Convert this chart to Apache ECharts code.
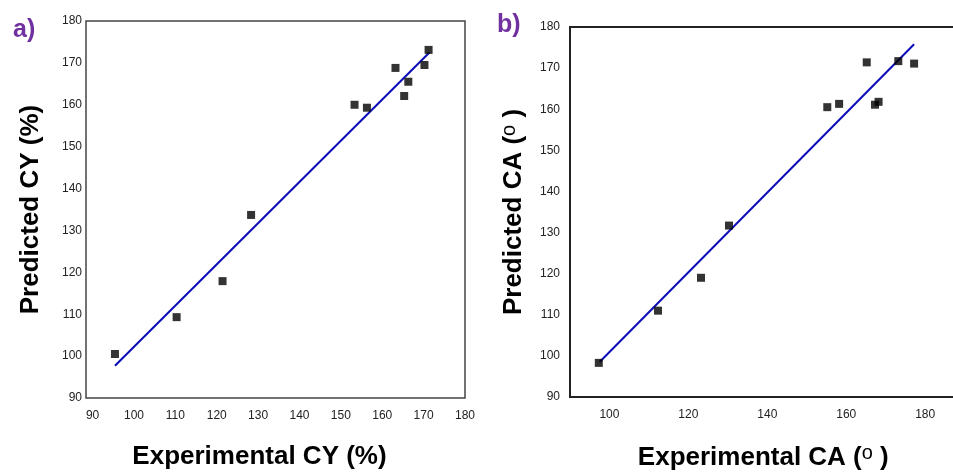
<!DOCTYPE html>
<html>
<head>
<meta charset="utf-8">
<title>Predicted vs experimental CY and CA</title>
<script src="https://cdn.jsdelivr.net/npm/echarts@6/dist/echarts.min.js"></script>
<style>
  html, body { margin: 0; padding: 0; background: #fff; }
  #chart { width: 953px; height: 472px; }
</style>
</head>
<body>
<div id="chart"></div>
<script>
  // a) CY (%) : experimental vs predicted
  var cyExperimental = [95.4, 110.3, 121.4, 128.3, 153.3, 156.3, 163.2, 165.3, 166.3, 170.2, 171.2];
  var cyPredicted = [100.5, 109.3, 117.9, 133.7, 160.0, 159.3, 168.8, 162.1, 165.5, 169.5, 173.1];
  var cyFitX = [95.4, 171.4];
  var cyFitY = [97.7, 172.5];
  var cyTicks = [90, 100, 110, 120, 130, 140, 150, 160, 170, 180];

  // b) CA (o) : experimental vs predicted
  var caExperimental = [97.3, 112.3, 123.2, 130.3, 155.2, 158.2, 165.2, 167.3, 168.2, 173.2, 177.2];
  var caPredicted = [98.3, 111.0, 119.0, 131.7, 160.5, 161.3, 171.4, 161.1, 161.8, 171.7, 171.1];
  var caFitX = [97.5, 177.2];
  var caFitY = [98.5, 175.8];
  var caXTicks = [100, 120, 140, 160, 180];
  var caYTicks = [90, 100, 110, 120, 130, 140, 150, 160, 170, 180];

  var FONT = 'Liberation Sans, Arial, sans-serif';

  function pairs(xs, ys) {
    var out = [];
    for (var i = 0; i < xs.length; i++) {
      out.push([xs[i], ys[i]]);
    }
    return out;
  }

  //only the listed ticks get a label
  function tickFormatter(ticks) {
    return function (value) {
      for (var i = 0; i < ticks.length; i++) {
        if (Math.abs(ticks[i] - value) < 1e-6) {
          return String(ticks[i]);
        }
      }
      return '';
    };
  }

  function tickLabel(ticks, margin) {
    return {
      color: '#222',
      fontFamily: FONT,
      fontSize: 12,
      margin: margin,
      formatter: tickFormatter(ticks)
    };
  }

  function nameStyle(padding) {
    return {
      color: '#000',
      fontFamily: FONT,
      fontSize: 26,
      fontWeight: 'bold',
      padding: padding || 0,
      rich: {
        sup: {
          color: '#000',
          fontFamily: FONT,
          fontSize: 20,
          fontWeight: 'normal',
          verticalAlign: 'top',
          padding: [0, 0, 10, 0]
        }
      }
    };
  }

  var chart = echarts.init(document.getElementById('chart'), null, { renderer: 'canvas' });

  var option = {
    backgroundColor: '#fff',
    animation: false,
    title: [
      {
        text: 'a)',
        left: 8,
        top: 13,
        textStyle: { color: '#7030a0', fontFamily: FONT, fontSize: 25, fontWeight: 'bold' }
      },
      {
        text: 'b)',
        left: 492,
        top: 8,
        textStyle: { color: '#7030a0', fontFamily: FONT, fontSize: 25, fontWeight: 'bold' }
      }
    ],
    grid: [
      {
        left: 86, top: 21, width: 379, height: 377,
        outerBoundsMode: 'none',
        containLabel: false,
        show: true, borderColor: '#444', borderWidth: 1.5
      },
      {
        // the box runs past the right edge of the picture
        left: 570, top: 27, width: 394.6, height: 370,
        outerBoundsMode: 'none',
        containLabel: false,
        show: true, borderColor: '#222', borderWidth: 2
      }
    ],
    xAxis: [
      {
        gridIndex: 0,
        type: 'value',
        min: 88.4,
        max: 180,
        minInterval: 10,
        maxInterval: 10,
        name: 'Experimental CY (%)',
        nameLocation: 'middle',
        nameGap: 46,
        nameTextStyle: nameStyle([0, 32, 0, 0]),
        axisLine: { show: false },
        axisTick: { show: false },
        splitLine: { show: false },
        axisLabel: tickLabel(cyTicks, 12)
      },
      {
        gridIndex: 1,
        type: 'value',
        min: 90,
        max: 190,
        minInterval: 20,
        maxInterval: 20,
        name: 'Experimental CA ({sup|o} )',
        nameLocation: 'middle',
        nameGap: 46,
        nameTextStyle: nameStyle([0, 8, 0, 0]),
        axisLine: { show: false },
        axisTick: { show: false },
        splitLine: { show: false },
        axisLabel: tickLabel(caXTicks, 12)
      }
    ],
    yAxis: [
      {
        gridIndex: 0,
        type: 'value',
        min: 90,
        max: 180,
        interval: 10,
        name: 'Predicted CY (%)',
        nameLocation: 'middle',
        nameGap: 42,
        nameTextStyle: nameStyle(),
        axisLine: { show: false },
        axisTick: { show: false },
        splitLine: { show: false },
        axisLabel: tickLabel(cyTicks, 4)
      },
      {
        gridIndex: 1,
        type: 'value',
        min: 90,
        max: 180,
        interval: 10,
        name: 'Predicted CA ({sup|o} )',
        nameLocation: 'middle',
        nameGap: 41,
        nameTextStyle: nameStyle(),
        axisLine: { show: false },
        axisTick: { show: false },
        splitLine: { show: false },
        axisLabel: tickLabel(caYTicks, 10)
      }
    ],
    series: [
      {
        name: 'CY fit',
        type: 'line',
        xAxisIndex: 0,
        yAxisIndex: 0,
        showSymbol: false,
        lineStyle: { color: '#0c0cb8', width: 2 },
        data: pairs(cyFitX, cyFitY),
        z: 2
      },
      {
        name: 'CY',
        type: 'scatter',
        xAxisIndex: 0,
        yAxisIndex: 0,
        symbol: 'rect',
        symbolSize: 8,
        itemStyle: { color: '#000' },
        data: pairs(cyExperimental, cyPredicted),
        z: 3
      },
      {
        name: 'CA fit',
        type: 'line',
        xAxisIndex: 1,
        yAxisIndex: 1,
        showSymbol: false,
        lineStyle: { color: '#0c0cb8', width: 2 },
        data: pairs(caFitX, caFitY),
        z: 2
      },
      {
        name: 'CA',
        type: 'scatter',
        xAxisIndex: 1,
        yAxisIndex: 1,
        symbol: 'rect',
        symbolSize: 8,
        itemStyle: { color: '#000' },
        data: pairs(caExperimental, caPredicted),
        z: 3
      }
    ]
  };

  chart.setOption(option);
</script>
</body>
</html>
